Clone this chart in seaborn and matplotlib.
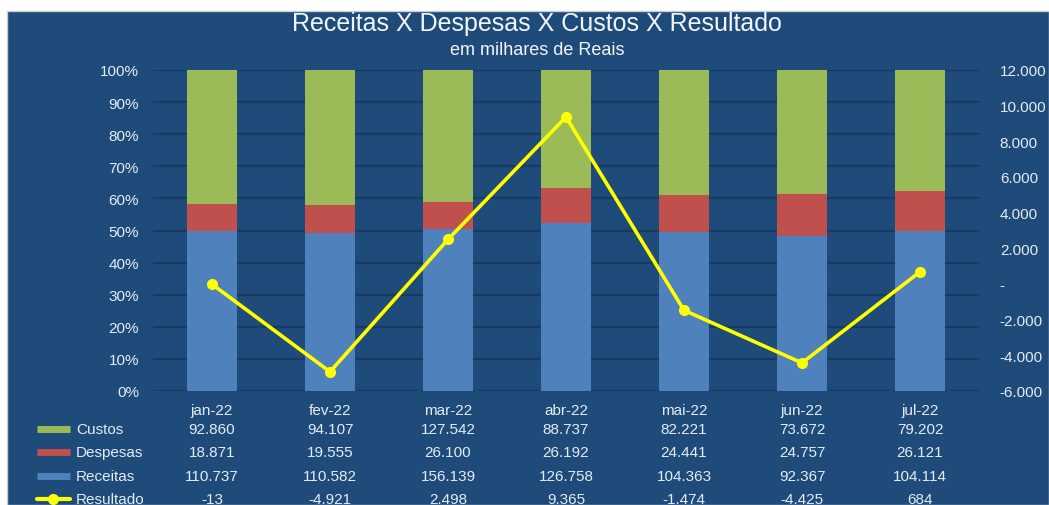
import numpy as np
import pandas as pd
import seaborn as sns
import matplotlib.pyplot as plt
import matplotlib.transforms as mtransforms
from matplotlib.patches import Rectangle
from matplotlib.lines import Line2D
from matplotlib.ticker import FuncFormatter

meses = ["jan-22", "fev-22", "mar-22", "abr-22", "mai-22", "jun-22", "jul-22"]
custos = [92860, 94107, 127542, 88737, 82221, 73672, 79202]
despesas = [18871, 19555, 26100, 26192, 24441, 24757, 26121]
receitas = [110737, 110582, 156139, 126758, 104363, 92367, 104114]
resultado = [-13, -4921, 2498, 9365, -1474, -4425, 684]

BG = "#1F4B7A"
GRID = "#173A62"
TXT = "#E4ECF4"
C_REC = "#4F81BD"
C_DESP = "#C0504D"
C_CUST = "#9BBB59"
C_RES = "#FFFF00"


def milhar(v):
    if v == 0:
        return "-"
    return f"{v:,.0f}".replace(",", ".")


df = pd.DataFrame({"mes": meses, "Custos": custos, "Despesas": despesas,
                   "Receitas": receitas, "Resultado": resultado})
total = df[["Receitas", "Despesas", "Custos"]].sum(axis=1)
df["p_rec"] = df["Receitas"] / total * 100
df["p_desp"] = (df["Receitas"] + df["Despesas"]) / total * 100
df["p_cust"] = (df["Receitas"] + df["Despesas"] + df["Custos"]) / total * 100

sns.set_style("white")
plt.rcParams["font.family"] = ["Liberation Sans", "DejaVu Sans"]

W, H = 1049, 506
fig = plt.figure(figsize=(W / 100, H / 100), dpi=100, facecolor="white")
fig.patches.append(Rectangle((7 / W, 0), 1 - 7 / W, 1 - 12 / H, transform=fig.transFigure,
                             facecolor=BG, edgecolor="#C9CDD2", lw=1, zorder=-10))

ax = fig.add_axes([153 / W, 1 - 392 / H, (979 - 153) / W, (392 - 71) / H])
ax.set_zorder(1)
ax.set_facecolor(BG)

# 100% stacked bars: draw the cumulative totals from back to front
for col, c in [("p_cust", C_CUST), ("p_desp", C_DESP), ("p_rec", C_REC)]:
    sns.barplot(data=df, x="mes", y=col, color=c, width=0.42, saturation=1,
                errorbar=None, linewidth=0, ax=ax, zorder=3)

ax.set_ylim(0, 100)
ax.set_yticks(np.arange(0, 101, 10))
ax.yaxis.set_major_formatter(FuncFormatter(lambda v, p: f"{v:.0f}%"))
ax.grid(axis="y", color=GRID, lw=1.6)
ax.set_axisbelow(True)
for s in ax.spines.values():
    s.set_visible(False)
ax.tick_params(axis="y", length=0, pad=10, labelsize=11, labelcolor=TXT)
ax.tick_params(axis="x", length=0, pad=9, labelsize=11, labelcolor=TXT)
ax.set_xlabel("")
ax.set_ylabel("")

ax2 = ax.twinx()
ax2.set_zorder(2)
sns.lineplot(x=np.arange(len(meses)), y=resultado, color=C_RES, lw=2.6, marker="o",
             markersize=8, markeredgewidth=0, ax=ax2, zorder=5)
ax2.set_ylim(-6000, 12000)
ax2.set_yticks(np.arange(-6000, 12001, 2000))
ax2.yaxis.set_major_formatter(FuncFormatter(lambda v, p: milhar(v)))
ax2.tick_params(axis="y", length=0, pad=15, labelsize=11, labelcolor=TXT)
for s in ax2.spines.values():
    s.set_visible(False)
ax.set_xlim(-0.5, len(meses) - 0.5)

# data table under the chart
tr = mtransforms.blended_transform_factory(ax.transData, fig.transFigure)
linhas = [("Custos", custos, C_CUST, 430), ("Despesas", despesas, C_DESP, 453),
          ("Receitas", receitas, C_REC, 477), ("Resultado", resultado, C_RES, 500)]
for nome, vals, cor, ypx in linhas:
    yf = 1 - ypx / H
    for i, v in enumerate(vals):
        fig.text(i, yf, milhar(v), transform=tr, ha="center", va="center",
                 fontsize=11, color=TXT)
    fig.text(76 / W, yf, nome, ha="left", va="center", fontsize=11, color=TXT)
    if nome == "Resultado":
        fig.add_artist(Line2D([37 / W, 70 / W], [yf, yf], color=cor, lw=3))
        fig.add_artist(Line2D([53 / W], [yf], color=cor, marker="o", markersize=8,
                              markeredgewidth=0))
    else:
        fig.add_artist(Line2D([37 / W, 70 / W], [yf, yf], color=cor, lw=5,
                              solid_capstyle="butt"))

fig.text(537 / W, 1 - 31 / H, "Receitas X Despesas X Custos X Resultado",
         ha="center", va="baseline", fontsize=18, color="#F2F6FA")
fig.text(537 / W, 1 - 55 / H, "em milhares de Reais",
         ha="center", va="baseline", fontsize=13, color="#F2F6FA")

fig.savefig("out.png", dpi=100, facecolor=fig.get_facecolor())
